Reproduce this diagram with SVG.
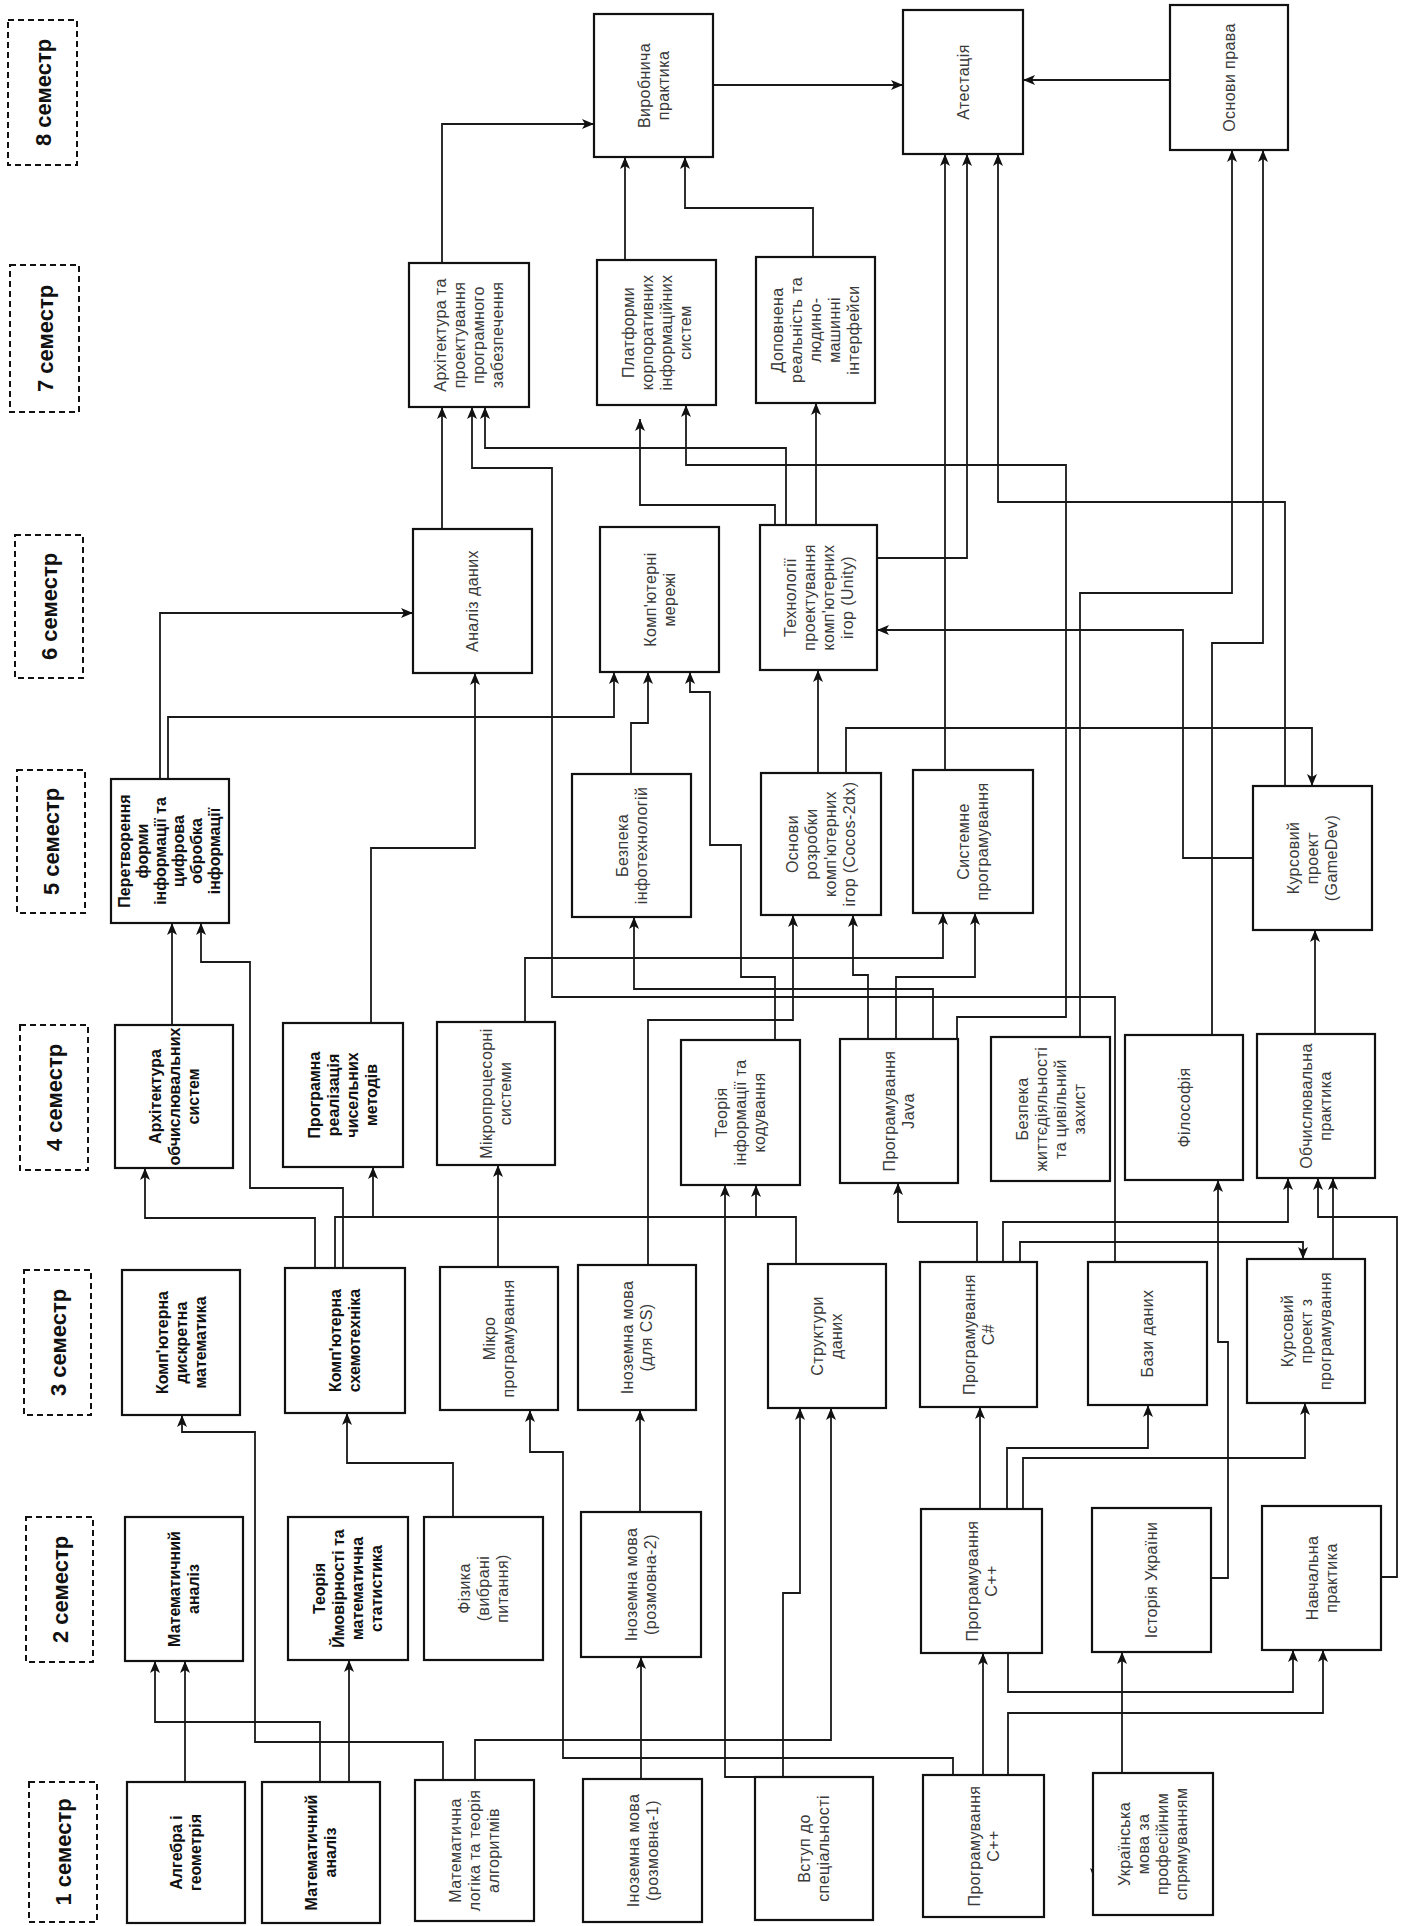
<svg xmlns="http://www.w3.org/2000/svg" width="1405" height="1926" viewBox="0 0 1405 1926">
<defs>
<style>
.sem{fill:#fff;stroke:#111;stroke-width:2;stroke-dasharray:6 4}
.box{fill:#fff;stroke:#111;stroke-width:2.2}
.ln{fill:none;stroke:#1a1a1a;stroke-width:1.8;marker-end:url(#ah)}
.ln0{fill:none;stroke:#1a1a1a;stroke-width:1.8}
.st{font-family:"Liberation Sans",Arial,sans-serif;font-size:22px;font-weight:bold;fill:#111;text-anchor:middle}
.t{font-family:"Liberation Sans",Arial,sans-serif;font-size:16px;fill:#3a3a3a;text-anchor:middle;letter-spacing:0.4px}
.tb{font-family:"Liberation Sans",Arial,sans-serif;font-size:16px;font-weight:bold;fill:#111;text-anchor:middle}
</style>
<marker id="ah" viewBox="0 0 12 10" refX="12" refY="5" markerWidth="12" markerHeight="10" markerUnits="userSpaceOnUse" orient="auto">
<path d="M0,0 L12,5 L0,10 L3,5 Z" fill="#111"/>
</marker>
</defs>
<rect width="1405" height="1926" fill="#fff"/>

<g id="semesters">
<g id="sem8"><rect class="sem" x="8" y="20" width="69" height="145"/><text class="st" transform="translate(42.5 92.5) rotate(-90)" y="8">8 семестр</text></g>
<g id="sem7"><rect class="sem" x="10" y="265" width="69" height="147"/><text class="st" transform="translate(44.5 338.5) rotate(-90)" y="8">7 семестр</text></g>
<g id="sem6"><rect class="sem" x="15" y="535" width="68" height="143"/><text class="st" transform="translate(49 606.5) rotate(-90)" y="8">6 семестр</text></g>
<g id="sem5"><rect class="sem" x="17" y="770" width="68" height="143"/><text class="st" transform="translate(51 841.5) rotate(-90)" y="8">5 семестр</text></g>
<g id="sem4"><rect class="sem" x="20" y="1025" width="68" height="145"/><text class="st" transform="translate(54 1097.5) rotate(-90)" y="8">4 семестр</text></g>
<g id="sem3"><rect class="sem" x="24" y="1270" width="67" height="145"/><text class="st" transform="translate(57.5 1342.5) rotate(-90)" y="8">3 семестр</text></g>
<g id="sem2"><rect class="sem" x="26" y="1517" width="67" height="145"/><text class="st" transform="translate(59.5 1589.5) rotate(-90)" y="8">2 семестр</text></g>
<g id="sem1"><rect class="sem" x="29" y="1782" width="68" height="140"/><text class="st" transform="translate(63 1852) rotate(-90)" y="8">1 семестр</text></g>
</g>

<g id="connectors">
<path class="ln" d="M185,1782 V1661"/>
<path class="ln" d="M320,1782 V1722 H155 V1661"/>
<path class="ln" d="M349,1782 V1660"/>
<path class="ln" d="M443,1780 V1742 H255 V1432 H182 V1415"/>
<path class="ln" d="M475,1780 V1740 H831 V1408"/>
<path class="ln" d="M453,1517 V1463 H347 V1413"/>
<path class="ln" d="M641,1779 V1657"/>
<path class="ln" d="M640,1512 V1410"/>
<path class="ln" d="M755,1777 H725 V1185"/>
<path class="ln" d="M783,1777 V1593 H800 V1408"/>
<path class="ln" d="M983,1775 V1653"/>
<path class="ln" d="M953,1775 V1758 H563 V1452 H530 V1410"/>
<path class="ln" d="M1008,1775 V1713 H1323 V1650"/>
<path class="ln" d="M1008,1653 V1692 H1293 V1650"/>
<path class="ln" d="M1122,1773 V1652"/>
<path class="ln" d="M1211,1578 H1228 V1342 H1218 V1180"/>
<path class="ln" d="M1381,1577 H1397 V1217 H1318 V1178"/>
<path class="ln" d="M980,1509 V1407"/>
<path class="ln" d="M1007,1509 V1448 H1148 V1405"/>
<path class="ln" d="M1023,1509 V1458 H1305 V1403"/>
<path class="ln" d="M977,1262 V1222 H898 V1183"/>
<path class="ln" d="M1003,1262 V1222 H1288 V1178"/>
<path class="ln" d="M1020,1262 V1242 H1303 V1259"/>
<path class="ln" d="M1333,1259 V1178"/>
<path class="ln" d="M315,1268 V1218 H145 V1168"/>
<path class="ln" d="M335,1268 V1217 H373 V1167"/>
<path class="ln" d="M796,1264 V1217 H756 V1185"/>
<path class="ln0" d="M756,1217 H373"/>
<path class="ln" d="M498,1267 V1165"/>
<path class="ln" d="M172,1025 V923"/>
<path class="ln" d="M343,1268 V1188 H250 V962 H201 V923"/>
<path class="ln" d="M371,1023 V848 H475 V673"/>
<path class="ln" d="M525,1022 V958 H943 V913"/>
<path class="ln" d="M1115,1262 V997 H552 V468 H472 V407"/>
<path class="ln" d="M648,1265 V1020 H793 V915"/>
<path class="ln" d="M775,1040 V977 H741 V845 H710 V692 H690 V672"/>
<path class="ln" d="M868,1039 V975 H853 V915"/>
<path class="ln" d="M896,1039 V977 H975 V913"/>
<path class="ln" d="M933,1039 V989 H634 V917"/>
<path class="ln" d="M957,1039 V1017 H1066 V465 H686 V405"/>
<path class="ln" d="M1080,1037 V593 H1232 V150"/>
<path class="ln" d="M1212,1035 V643 H1263 V150"/>
<path class="ln" d="M1315,1034 V930"/>
<path class="ln" d="M846,773 V728 H1312 V786"/>
<path class="ln" d="M818,773 V670"/>
<path class="ln" d="M631,774 V723 H648 V672"/>
<path class="ln" d="M160,779 V613 H413"/>
<path class="ln" d="M168,779 V717 H614 V672"/>
<path class="ln" d="M1253,858 H1183 V630 H877"/>
<path class="ln" d="M877,558 H967 V154"/>
<path class="ln" d="M945,770 V154"/>
<path class="ln" d="M1285,786 V502 H998 V154"/>
<path class="ln" d="M775,525 V505 H640 V419"/>
<path class="ln" d="M786,525 V448 H485 V407"/>
<path class="ln" d="M816,525 V403"/>
<path class="ln" d="M442,529 V407"/>
<path class="ln" d="M442,263 V124 H594"/>
<path class="ln" d="M625,260 V157"/>
<path class="ln" d="M813,257 V208 H685 V157"/>
<path class="ln" d="M713,85 H903"/>
<path class="ln" d="M1170,80 H1023"/>
<path d="M1090,1868 L1095,1881 L1100,1868 L1095,1871 Z" fill="#111"/>
</g>

<g id="vyrob"><rect class="box" x="594" y="14" width="119" height="143"/><text class="t" transform="translate(653.5 85.5) rotate(-90)"><tspan x="0" y="-4">Виробнича</tspan><tspan x="0" y="15">практика</tspan></text></g>
<g id="atest"><rect class="box" x="903" y="10" width="120" height="144"/><text class="t" transform="translate(963 82) rotate(-90)"><tspan x="0" y="5.5">Атестація</tspan></text></g>
<g id="osnprava"><rect class="box" x="1170" y="5" width="118" height="145"/><text class="t" transform="translate(1229 77.5) rotate(-90)"><tspan x="0" y="5.5">Основи права</tspan></text></g>

<g id="arhpz"><rect class="box" x="409" y="263" width="120" height="144"/><text class="t" transform="translate(469 335) rotate(-90)"><tspan x="0" y="-23">Архітектура та</tspan><tspan x="0" y="-4">проектування</tspan><tspan x="0" y="15">програмного</tspan><tspan x="0" y="34">забезпечення</tspan></text></g>
<g id="platf"><rect class="box" x="597" y="260" width="119" height="145"/><text class="t" transform="translate(656.5 332.5) rotate(-90)"><tspan x="0" y="-23">Платформи</tspan><tspan x="0" y="-4">корпоративних</tspan><tspan x="0" y="15">інформаційних</tspan><tspan x="0" y="34">систем</tspan></text></g>
<g id="dopov"><rect class="box" x="756" y="257" width="119" height="146"/><text class="t" transform="translate(815.5 330) rotate(-90)"><tspan x="0" y="-32.5">Доповнена</tspan><tspan x="0" y="-13.5">реальність та</tspan><tspan x="0" y="5.5">людино-</tspan><tspan x="0" y="24.5">машинні</tspan><tspan x="0" y="43.5">інтерфейси</tspan></text></g>

<g id="analiz"><rect class="box" x="413" y="529" width="119" height="144"/><text class="t" transform="translate(472.5 601) rotate(-90)"><tspan x="0" y="5.5">Аналіз даних</tspan></text></g>
<g id="merezhi"><rect class="box" x="600" y="527" width="119" height="145"/><text class="t" transform="translate(659.5 599.5) rotate(-90)"><tspan x="0" y="-4">Комп'ютерні</tspan><tspan x="0" y="15">мережі</tspan></text></g>
<g id="tehnol"><rect class="box" x="760" y="525" width="117" height="145"/><text class="t" transform="translate(818.5 597.5) rotate(-90)"><tspan x="0" y="-23">Технології</tspan><tspan x="0" y="-4">проектування</tspan><tspan x="0" y="15">комп'ютерних</tspan><tspan x="0" y="34">ігор (Unity)</tspan></text></g>

<g id="peretv"><rect class="box" x="111" y="779" width="118" height="144"/><text class="tb" transform="translate(170 851) rotate(-90)"><tspan x="0" y="-40">Перетворення</tspan><tspan x="0" y="-22">форми</tspan><tspan x="0" y="-4">інформації та</tspan><tspan x="0" y="14">цифрова</tspan><tspan x="0" y="32">обробка</tspan><tspan x="0" y="50">інформації</tspan></text></g>
<g id="bezinfo"><rect class="box" x="572" y="774" width="119" height="143"/><text class="t" transform="translate(631.5 845.5) rotate(-90)"><tspan x="0" y="-4">Безпека</tspan><tspan x="0" y="15">інфотехнологій</tspan></text></g>
<g id="osnroz"><rect class="box" x="761" y="773" width="120" height="142"/><text class="t" transform="translate(821 844) rotate(-90)"><tspan x="0" y="-23">Основи</tspan><tspan x="0" y="-4">розробки</tspan><tspan x="0" y="15">комп'ютерних</tspan><tspan x="0" y="34">ігор (Cocos-2dx)</tspan></text></g>
<g id="systprog"><rect class="box" x="913" y="770" width="120" height="143"/><text class="t" transform="translate(973 841.5) rotate(-90)"><tspan x="0" y="-4">Системне</tspan><tspan x="0" y="15">програмування</tspan></text></g>
<g id="gamedev"><rect class="box" x="1253" y="786" width="119" height="144"/><text class="t" transform="translate(1312.5 858) rotate(-90)"><tspan x="0" y="-13.5">Курсовий</tspan><tspan x="0" y="5.5">проект</tspan><tspan x="0" y="24.5">(GameDev)</tspan></text></g>

<g id="arhobch"><rect class="box" x="115" y="1025" width="118" height="143"/><text class="tb" transform="translate(174 1096.5) rotate(-90)"><tspan x="0" y="-13.5">Архітектура</tspan><tspan x="0" y="5.5">обчислювальних</tspan><tspan x="0" y="24.5">систем</tspan></text></g>
<g id="prograel"><rect class="box" x="283" y="1023" width="120" height="144"/><text class="tb" transform="translate(343 1095) rotate(-90)"><tspan x="0" y="-23">Програмна</tspan><tspan x="0" y="-4">реалізація</tspan><tspan x="0" y="15">чисельних</tspan><tspan x="0" y="34">методів</tspan></text></g>
<g id="mikroproc"><rect class="box" x="437" y="1022" width="118" height="143"/><text class="t" transform="translate(496 1093.5) rotate(-90)"><tspan x="0" y="-4">Мікропроцесорні</tspan><tspan x="0" y="15">системи</tspan></text></g>
<g id="teorinf"><rect class="box" x="681" y="1040" width="119" height="145"/><text class="t" transform="translate(740.5 1112.5) rotate(-90)"><tspan x="0" y="-13.5">Теорія</tspan><tspan x="0" y="5.5">інформації та</tspan><tspan x="0" y="24.5">кодування</tspan></text></g>
<g id="java"><rect class="box" x="840" y="1039" width="118" height="144"/><text class="t" transform="translate(899 1111) rotate(-90)"><tspan x="0" y="-4">Програмування</tspan><tspan x="0" y="15">Java</tspan></text></g>
<g id="bzhd"><rect class="box" x="991" y="1037" width="119" height="144"/><text class="t" transform="translate(1050.5 1109) rotate(-90)"><tspan x="0" y="-23">Безпека</tspan><tspan x="0" y="-4">життєдіяльності</tspan><tspan x="0" y="15">та цивільний</tspan><tspan x="0" y="34">захист</tspan></text></g>
<g id="filos"><rect class="box" x="1125" y="1035" width="118" height="145"/><text class="t" transform="translate(1184 1107.5) rotate(-90)"><tspan x="0" y="5.5">Філософія</tspan></text></g>
<g id="obchpr"><rect class="box" x="1257" y="1034" width="118" height="144"/><text class="t" transform="translate(1316 1106) rotate(-90)"><tspan x="0" y="-4">Обчислювальна</tspan><tspan x="0" y="15">практика</tspan></text></g>

<g id="dyskr"><rect class="box" x="122" y="1270" width="118" height="145"/><text class="tb" transform="translate(181 1342.5) rotate(-90)"><tspan x="0" y="-13.5">Комп'ютерна</tspan><tspan x="0" y="5.5">дискретна</tspan><tspan x="0" y="24.5">математика</tspan></text></g>
<g id="shemo"><rect class="box" x="285" y="1268" width="120" height="145"/><text class="tb" transform="translate(345 1340.5) rotate(-90)"><tspan x="0" y="-4">Комп'ютерна</tspan><tspan x="0" y="15">схемотехніка</tspan></text></g>
<g id="mikroprog"><rect class="box" x="440" y="1267" width="118" height="143"/><text class="t" transform="translate(499 1338.5) rotate(-90)"><tspan x="0" y="-4">Мікро</tspan><tspan x="0" y="15">програмування</tspan></text></g>
<g id="inozcs"><rect class="box" x="578" y="1265" width="118" height="145"/><text class="t" transform="translate(637 1337.5) rotate(-90)"><tspan x="0" y="-4">Іноземна мова</tspan><tspan x="0" y="15">(для CS)</tspan></text></g>
<g id="strukt"><rect class="box" x="768" y="1264" width="118" height="144"/><text class="t" transform="translate(827 1336) rotate(-90)"><tspan x="0" y="-4">Структури</tspan><tspan x="0" y="15">даних</tspan></text></g>
<g id="csharp"><rect class="box" x="920" y="1262" width="117" height="145"/><text class="t" transform="translate(978.5 1334.5) rotate(-90)"><tspan x="0" y="-4">Програмування</tspan><tspan x="0" y="15">C#</tspan></text></g>
<g id="bazy"><rect class="box" x="1088" y="1262" width="119" height="143"/><text class="t" transform="translate(1147.5 1333.5) rotate(-90)"><tspan x="0" y="5.5">Бази даних</tspan></text></g>
<g id="kursprog"><rect class="box" x="1247" y="1259" width="118" height="144"/><text class="t" transform="translate(1306 1331) rotate(-90)"><tspan x="0" y="-13.5">Курсовий</tspan><tspan x="0" y="5.5">проект з</tspan><tspan x="0" y="24.5">програмування</tspan></text></g>

<g id="matan2"><rect class="box" x="125" y="1517" width="118" height="144"/><text class="tb" transform="translate(184 1589) rotate(-90)"><tspan x="0" y="-4">Математичний</tspan><tspan x="0" y="15">аналіз</tspan></text></g>
<g id="teorimov"><rect class="box" x="288" y="1517" width="120" height="143"/><text class="tb" transform="translate(348 1588.5) rotate(-90)"><tspan x="0" y="-23">Теорія</tspan><tspan x="0" y="-4">Ймовірності та</tspan><tspan x="0" y="15">математична</tspan><tspan x="0" y="34">статистика</tspan></text></g>
<g id="fizyka"><rect class="box" x="424" y="1517" width="119" height="143"/><text class="t" transform="translate(483.5 1588.5) rotate(-90)"><tspan x="0" y="-13.5">Фізика</tspan><tspan x="0" y="5.5">(вибрані</tspan><tspan x="0" y="24.5">питання)</tspan></text></g>
<g id="inoz2"><rect class="box" x="581" y="1512" width="120" height="145"/><text class="t" transform="translate(641 1584.5) rotate(-90)"><tspan x="0" y="-4">Іноземна мова</tspan><tspan x="0" y="15">(розмовна-2)</tspan></text></g>
<g id="cpp2"><rect class="box" x="921" y="1509" width="121" height="144"/><text class="t" transform="translate(981.5 1581) rotate(-90)"><tspan x="0" y="-4">Програмування</tspan><tspan x="0" y="15">C++</tspan></text></g>
<g id="istoriya"><rect class="box" x="1092" y="1508" width="119" height="144"/><text class="t" transform="translate(1151.5 1580) rotate(-90)"><tspan x="0" y="5.5">Історія України</tspan></text></g>
<g id="navchpr"><rect class="box" x="1262" y="1506" width="119" height="144"/><text class="t" transform="translate(1321.5 1578) rotate(-90)"><tspan x="0" y="-4">Навчальна</tspan><tspan x="0" y="15">практика</tspan></text></g>

<g id="algebra"><rect class="box" x="127" y="1782" width="118" height="141"/><text class="tb" transform="translate(186 1852.5) rotate(-90)"><tspan x="0" y="-4">Алгебра і</tspan><tspan x="0" y="15">геометрія</tspan></text></g>
<g id="matan1"><rect class="box" x="262" y="1782" width="118" height="141"/><text class="tb" transform="translate(321 1852.5) rotate(-90)"><tspan x="0" y="-4">Математичний</tspan><tspan x="0" y="15">аналіз</tspan></text></g>
<g id="matlog"><rect class="box" x="415" y="1780" width="119" height="141"/><text class="t" transform="translate(474.5 1850.5) rotate(-90)"><tspan x="0" y="-13.5">Математична</tspan><tspan x="0" y="5.5">логіка та теорія</tspan><tspan x="0" y="24.5">алгоритмів</tspan></text></g>
<g id="inoz1"><rect class="box" x="583" y="1779" width="119" height="143"/><text class="t" transform="translate(642.5 1850.5) rotate(-90)"><tspan x="0" y="-4">Іноземна мова</tspan><tspan x="0" y="15">(розмовна-1)</tspan></text></g>
<g id="vstup"><rect class="box" x="755" y="1777" width="118" height="143"/><text class="t" transform="translate(814 1848.5) rotate(-90)"><tspan x="0" y="-4">Вступ до</tspan><tspan x="0" y="15">спеціальності</tspan></text></g>
<g id="cpp1"><rect class="box" x="923" y="1775" width="121" height="142"/><text class="t" transform="translate(983.5 1846) rotate(-90)"><tspan x="0" y="-4">Програмування</tspan><tspan x="0" y="15">C++</tspan></text></g>
<g id="ukrmova"><rect class="box" x="1093" y="1773" width="120" height="142"/><text class="t" transform="translate(1153 1844) rotate(-90)"><tspan x="0" y="-23">Українська</tspan><tspan x="0" y="-4">мова за</tspan><tspan x="0" y="15">професійним</tspan><tspan x="0" y="34">спрямуванням</tspan></text></g>
</svg>
